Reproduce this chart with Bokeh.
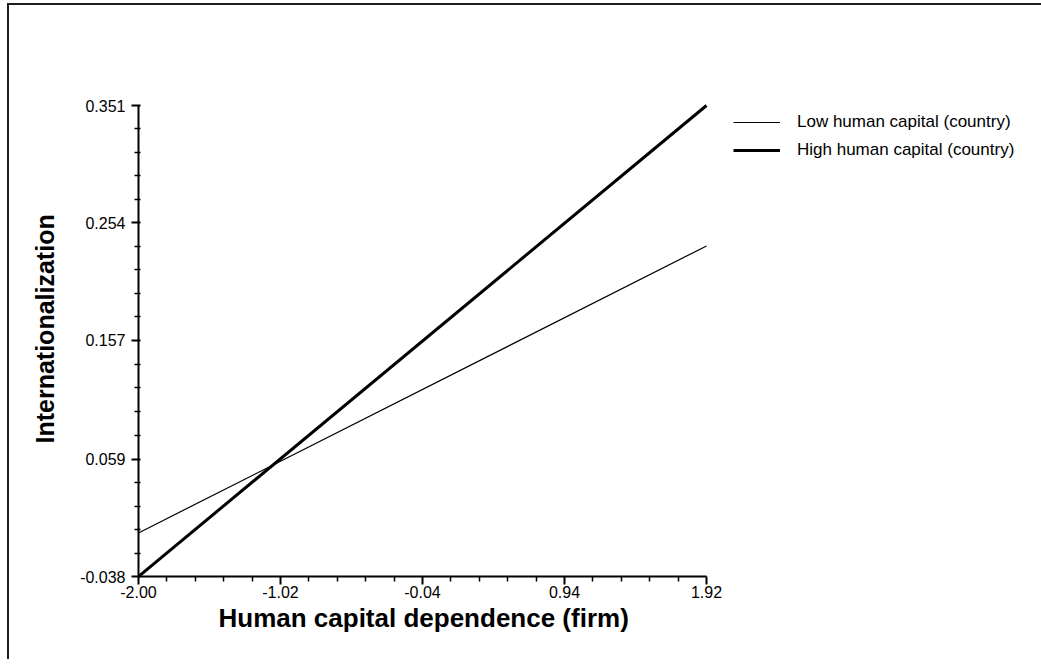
import numpy as np
from bokeh.plotting import figure
from bokeh.models import Range1d, FixedTicker, Legend, LegendItem, Title
from bokeh.embed import file_html
from bokeh.resources import INLINE

# ---- data ----
x_vals = [-2.00, 1.92]
low_vals = [-0.002, 0.235]
high_vals = [-0.038, 0.351]
series_names = ["Low human capital (country)", "High human capital (country)"]
x_ticks = [-2.00, -1.02, -0.04, 0.94, 1.92]
y_ticks = [-0.038, 0.059, 0.157, 0.254, 0.351]
x_tick_labels = ["-2.00", "-1.02", "-0.04", "0.94", "1.92"]
y_tick_labels = ["-0.038", "0.059", "0.157", "0.254", "0.351"]
x_title = "Human capital dependence (firm)"
y_title = "Internationalization"


def minors(major, n=5):
    out = []
    for a, b in zip(major[:-1], major[1:]):
        out.extend(np.linspace(a, b, n + 1)[1:-1].tolist())
    return out


FONT = "Liberation Sans"

# ---- layout (pixels) ----
W, H = 1040, 656
B_LEFT, B_RIGHT, B_TOP, B_BOTTOM = 129, 19, 10, 85
AXIS_W_PX, AXIS_H_PX = 568, 471          # drawn length of x and y axes
frame_w = W - B_LEFT - B_RIGHT
frame_h = H - B_TOP - B_BOTTOM
x_span = x_ticks[-1] - x_ticks[0]
y_span = y_ticks[-1] - y_ticks[0]
x_end = x_ticks[0] + x_span * frame_w / AXIS_W_PX
y_end = y_ticks[0] + y_span * frame_h / AXIS_H_PX

# frame extends right/up beyond the drawn axes so the legend sits inside it
p = figure(
    width=W, height=H,
    output_backend="svg", toolbar_location=None,
    x_range=Range1d(x_ticks[0], x_end), y_range=Range1d(y_ticks[0], y_end),
    min_border_left=B_LEFT, min_border_right=B_RIGHT,
    min_border_top=B_TOP, min_border_bottom=B_BOTTOM,
    styles={
        "margin-top": "3px", "margin-left": "7px",
        "border-width": "2px 0px 0px 2px", "border-style": "solid",
        "border-color": "#1e1e1e",
    },
)
p.grid.visible = False
p.outline_line_color = None
p.background_fill_color = "white"
p.border_fill_color = "white"

r_low = p.line(x_vals, low_vals, line_color="black", line_width=1.2)
r_high = p.line(x_vals, high_vals, line_color="black", line_width=3)

xa = p.xaxis[0]
xa.bounds = (x_ticks[0], x_ticks[-1])
xa.ticker = FixedTicker(ticks=x_ticks, minor_ticks=minors(x_ticks))
xa.major_label_overrides = {t: l for t, l in zip(x_ticks, x_tick_labels)}
xa.axis_line_width = 2
xa.axis_line_color = "black"
xa.major_tick_line_width = 2
xa.minor_tick_line_width = 1.5
xa.major_tick_line_color = "black"
xa.minor_tick_line_color = "black"
xa.major_tick_out = 8
xa.major_tick_in = 0
xa.minor_tick_out = 5
xa.minor_tick_in = 0
xa.major_label_standoff = 1
xa.major_label_text_font = FONT
xa.major_label_text_font_size = "16px"
xa.major_label_text_color = "black"

ya = p.yaxis[0]
ya.bounds = (y_ticks[0], y_ticks[-1])
ya.ticker = FixedTicker(ticks=y_ticks, minor_ticks=minors(y_ticks))
ya.major_label_overrides = {t: l for t, l in zip(y_ticks, y_tick_labels)}
ya.axis_line_width = 2
ya.axis_line_color = "black"
ya.major_tick_line_width = 2
ya.minor_tick_line_width = 1.5
ya.major_tick_line_color = "black"
ya.minor_tick_line_color = "black"
ya.major_tick_out = 7
ya.major_tick_in = 2
ya.minor_tick_out = 4
ya.minor_tick_in = 2
ya.major_label_standoff = 6
ya.major_label_text_font = FONT
ya.major_label_text_font_size = "16px"
ya.major_label_text_color = "black"

# axis titles as side-panel titles, placed along the drawn axes
xt = Title(text=x_title, align="left", offset=80, standoff=0,
           text_font=FONT, text_font_size="26px", text_font_style="bold",
           text_color="black")
p.add_layout(xt, "below")
yt = Title(text=y_title, align="left", offset=133, standoff=38,
           text_font=FONT, text_font_size="25px", text_font_style="bold",
           text_color="black")
p.add_layout(yt, "left")

legend = Legend(
    items=[
        LegendItem(label=series_names[0], renderers=[r_low]),
        LegendItem(label=series_names[1], renderers=[r_high]),
    ],
    location=(595, 416),
    glyph_width=47, glyph_height=20, label_height=20,
    label_standoff=17, spacing=8, padding=0, margin=0,
    border_line_color=None, background_fill_alpha=0,
    label_text_font=FONT, label_text_font_size="17px", label_text_color="black",
)
p.add_layout(legend)

open("out.html", "w").write(file_html(p, INLINE))
